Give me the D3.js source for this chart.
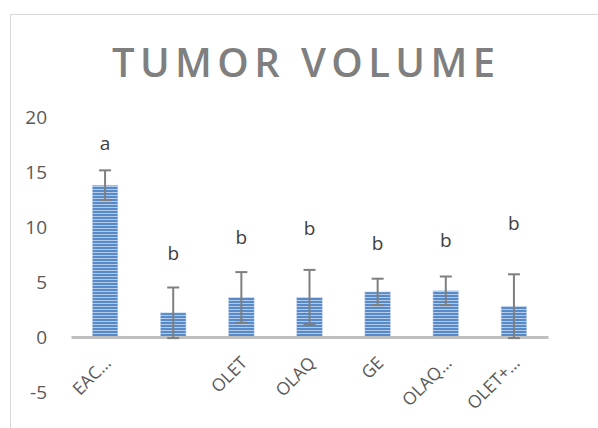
<!DOCTYPE html>
<html>
<head>
<meta charset="utf-8">
<script src="https://cdn.jsdelivr.net/npm/d3@7"></script>
<style>
  html, body { margin: 0; padding: 0; background: #fff; }
  svg { display: block; }
</style>
</head>
<body>
<svg id="chart" width="598" height="428"></svg>
<script>
const categories = ["EAC…", "", "OLET", "OLAQ", "GE", "OLAQ…", "OLET+…"];
const values = [13.8, 2.2, 3.6, 3.6, 4.1, 4.2, 2.8];
const errors = [1.35, 2.3, 2.3, 2.5, 1.2, 1.3, 2.9];
const letters = ["a", "b", "b", "b", "b", "b", "b"];
const letterLevels = [17.6, 7.6, 9.1, 9.9, 8.5, 8.8, 10.3];
const yTicks = [-5, 0, 5, 10, 15, 20];
const title = "TUMOR VOLUME";

const FONT = "'Open Sans', 'DejaVu Sans', sans-serif";
const svg = d3.select("#chart");

// chart border
svg.append("rect")
  .attr("x", 10.5).attr("y", 14.5)
  .attr("width", 600).attr("height", 430)
  .attr("fill", "#fff").attr("stroke", "#d9d9d9").attr("stroke-width", 1);

// stripe pattern
const defs = svg.append("defs");
const pat = defs.append("pattern")
  .attr("id", "stripes").attr("patternUnits", "userSpaceOnUse")
  .attr("width", 6).attr("height", 3);
pat.append("rect").attr("width", 6).attr("height", 3).attr("fill", "#b3cbea");
pat.append("rect").attr("y", 1).attr("width", 6).attr("height", 2).attr("fill", "#5889c8");

const x = d3.scaleBand().domain(categories).range([71, 548]).padding(0);
const y = d3.scaleLinear().domain([-5, 20]).range([392, 117]);

const data = categories.map((c, i) => ({ c, v: values[i], e: errors[i], l: letters[i], ll: letterLevels[i] }));
const bw = x.bandwidth() * 0.376;
const cx = d => x(d.c) + x.bandwidth() / 2;

// title
svg.append("text")
  .attr("x", 303.5).attr("y", 77)
  .attr("text-anchor", "middle")
  .attr("font-family", FONT).attr("font-weight", 600)
  .attr("font-size", 40).attr("fill", "#7f7f7f")
  .attr("textLength", 383).attr("lengthAdjust", "spacing")
  .text(title);

// y axis labels
const yAxis = d3.axisLeft(y).tickValues(yTicks).tickSize(0).tickPadding(0)
  .tickFormat(d => String(d));
const gy = svg.append("g").attr("transform", "translate(47,0)").call(yAxis);
gy.select(".domain").remove();
gy.selectAll("text")
  .attr("font-family", FONT).attr("font-size", 19).attr("fill", "#595959")
  .attr("dy", "0.35em");

// bars
svg.append("g").selectAll("rect").data(data).join("rect")
  .attr("x", d => cx(d) - bw / 2)
  .attr("width", bw)
  .attr("y", d => y(Math.max(0, d.v)))
  .attr("height", d => Math.abs(y(d.v) - y(0)))
  .attr("fill", "url(#stripes)")
  .attr("stroke", "#c5d7ee").attr("stroke-width", 0.6);

// zero axis line and x labels
const xAxis = d3.axisBottom(x).tickSize(0).tickFormat("");
const gx = svg.append("g").attr("transform", `translate(0,${y(0)})`).call(xAxis);
gx.select(".domain").attr("stroke", "#bfbfbf").attr("stroke-width", 3);

svg.append("g").selectAll("text").data(data).join("text")
  .attr("transform", d => `translate(${cx(d) + 7},${y(0) + 27}) rotate(-45)`)
  .attr("text-anchor", "end")
  .attr("font-family", FONT).attr("font-size", 17.5).attr("fill", "#595959")
  .text(d => d.c);

// error bars
const eg = svg.append("g").attr("stroke", "#7f7f7f").attr("stroke-width", 2);
eg.selectAll("line.v").data(data).join("line").attr("class", "v")
  .attr("x1", cx).attr("x2", cx)
  .attr("y1", d => y(d.v - d.e)).attr("y2", d => y(d.v + d.e));
eg.selectAll("line.t").data(data).join("line").attr("class", "t")
  .attr("x1", d => cx(d) - 6).attr("x2", d => cx(d) + 6)
  .attr("y1", d => y(d.v + d.e)).attr("y2", d => y(d.v + d.e));
eg.selectAll("line.b").data(data).join("line").attr("class", "b")
  .attr("x1", d => cx(d) - 6).attr("x2", d => cx(d) + 6)
  .attr("y1", d => y(d.v - d.e)).attr("y2", d => y(d.v - d.e));

// significance letters
svg.append("g").selectAll("text").data(data).join("text")
  .attr("x", cx).attr("y", d => y(d.ll))
  .attr("dy", "0.35em")
  .attr("text-anchor", "middle")
  .attr("font-family", FONT).attr("font-size", 19).attr("fill", "#404040")
  .text(d => d.l);
</script>
</body>
</html>
